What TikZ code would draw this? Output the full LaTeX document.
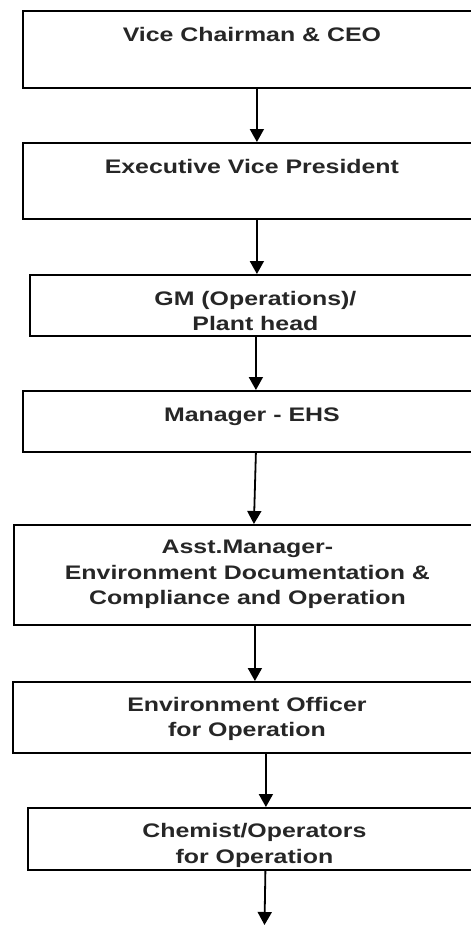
\documentclass[tikz,border=0pt]{standalone}
\usepackage{fontspec}
\usepackage{xcolor}
\usepackage{tikz}
\newfontfamily\rolefont{Liberation Sans}[FakeStretch=1.27]
\usetikzlibrary{positioning,calc,arrows.meta}

\begin{document}
\begin{tikzpicture}[
    x=0.5pt, y=-0.5pt,
    role/.style={draw, line width=0.9pt, anchor=north west, inner xsep=0pt, inner ysep=0pt,
        text height=15.25pt, align=center, text=black!85,
        font=\rolefont\bfseries\fontsize{9.8}{12.75}\selectfont},
    link/.style={line width=0.9pt, -{Triangle[length=6.5pt, width=7pt]}}
]
    \useasboundingbox (0,0) rectangle (471,926);
    \clip (0,0) rectangle (471,926);
    % text height is measured down to the last line
    \node [role, minimum width=229pt, text depth=23.25pt] (ceo) at (22,10) {Vice Chairman \& CEO};
    \node [role, minimum width=229pt, text depth=22.75pt] (evp) at (22,142) {Executive Vice President};
    \node [role, minimum width=225.5pt, text height=28pt, text depth=2.5pt] (gm) at (29,274)
        {GM (Operations)/\\Plant head};
    \node [role, minimum width=229pt, text depth=15.25pt] (ehs) at (22,390) {Manager - EHS};
    \node [role, minimum width=233.5pt, text height=40pt, text depth=10pt] (asst) at (13,524)
        {Asst.Manager-\\Environment Documentation \&\\Compliance and Operation};
    \node [role, minimum width=234pt, text height=27.5pt, text depth=8pt] (officer) at (12,681)
        {Environment Officer\\for Operation};
    \node [role, minimum width=226.5pt, text height=27.75pt, text depth=3.25pt] (chem) at (27,807)
        {Chemist/Operators\\for Operation};
    \coordinate (below) at (264.5,925);

    \draw [link] ([xshift=2.5pt]ceo.south) -- ([xshift=2.5pt]ceo.south |- evp.north);
    \draw [link] ([xshift=2.5pt]evp.south) -- ([xshift=2.5pt]evp.south |- gm.north);
    \draw [link] ([xshift=0.25pt]gm.south) -- ([xshift=0.25pt]gm.south |- ehs.north);
    \draw [link] ([xshift=2pt]ehs.south) -- ([xshift=3.25pt]asst.north);
    \draw [link] ([xshift=3.75pt]asst.south) -- ([xshift=3.75pt]asst.south |- officer.north);
    \draw [link] ([xshift=9.5pt]officer.south) -- ([xshift=9.5pt]officer.south |- chem.north);
    \draw [link] ([xshift=5.5pt]chem.south) -- (below);
\end{tikzpicture}
\end{document}
